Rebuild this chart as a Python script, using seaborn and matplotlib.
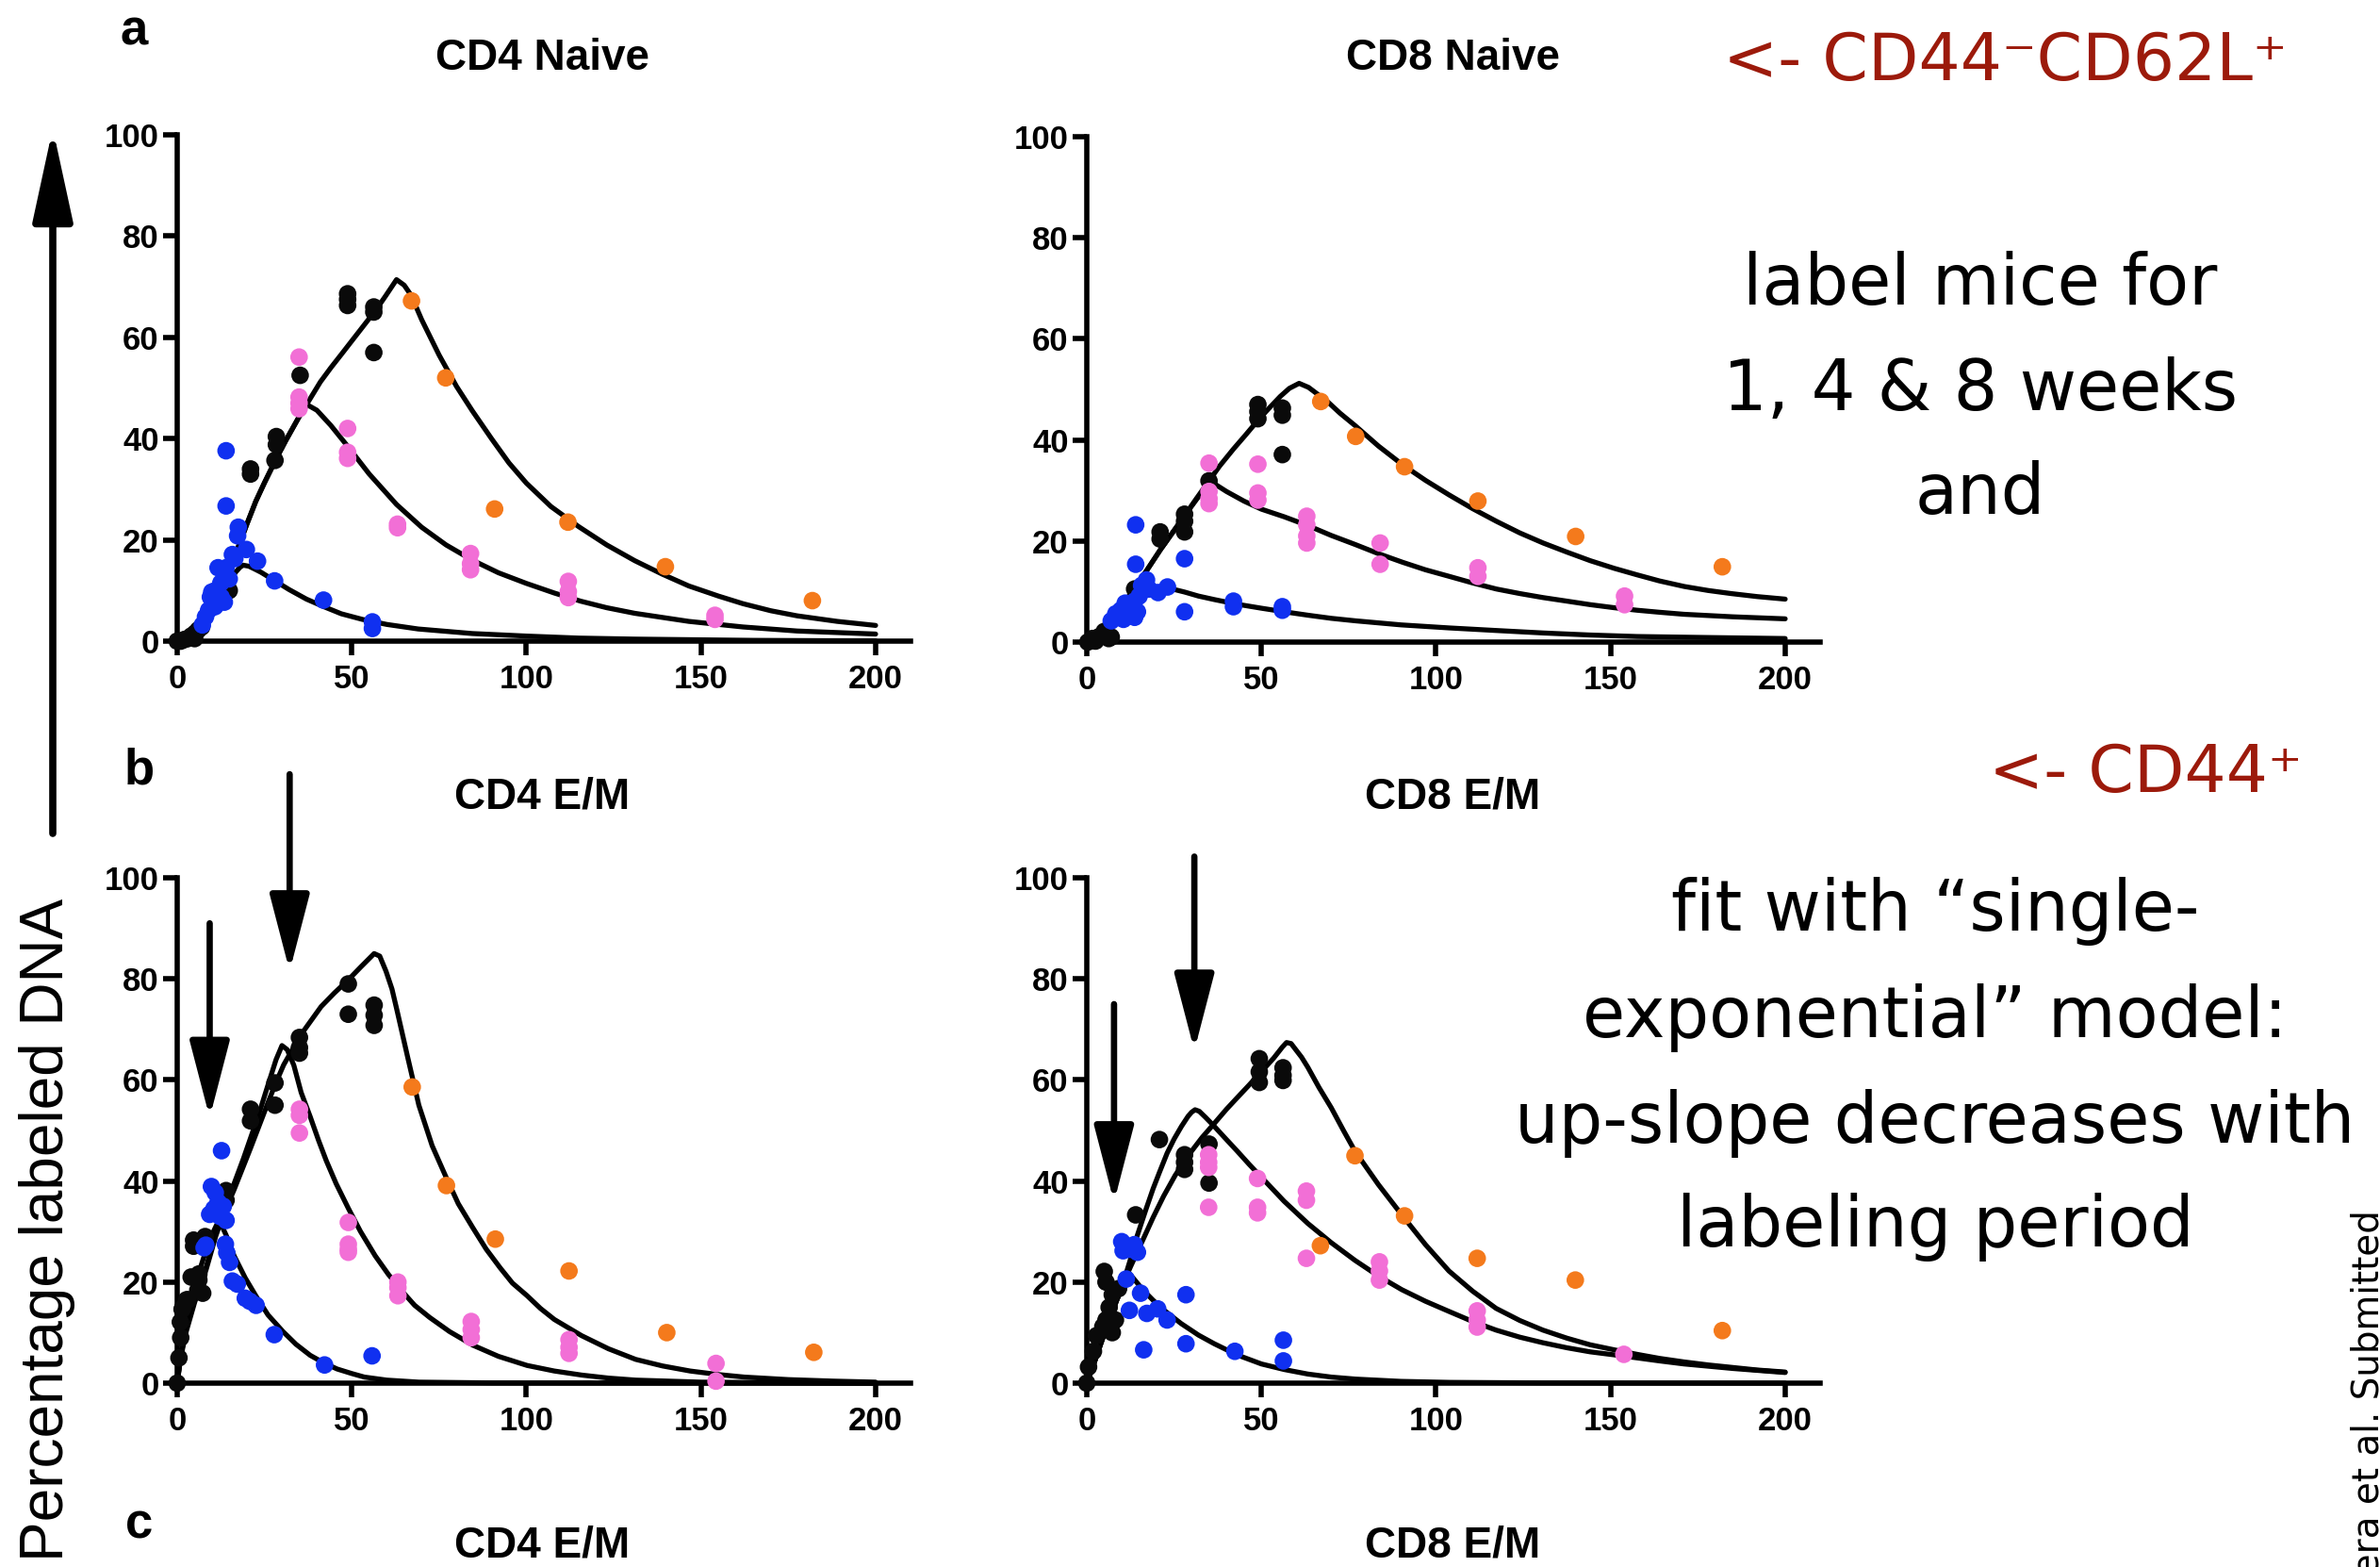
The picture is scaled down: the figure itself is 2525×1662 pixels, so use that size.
import matplotlib
matplotlib.use("Agg")
import matplotlib.pyplot as plt
from matplotlib.patches import ArrowStyle
import numpy as np
import pandas as pd
import seaborn as sns

# ---------------------------------------------------------------------------
# Data: percentage of labeled DNA vs. day, measured points and model fits
# ---------------------------------------------------------------------------
DAY_TICKS = [0, 50, 100, 150, 200]
PCT_TICKS = [0, 20, 40, 60, 80, 100]

# --- CD4 naive -------------------------------------------------------------
CD4N_BLACK = [(0, 0), (1, 0), (2, 0.3), (3, 0.5), (4, 1), (5, 1.5), (5, 0.5), (6, 2.2), (7, 2.8),
              (13.5, 10.4), (14.9, 10), (21, 34), (21, 33), (28.4, 40.4), (28.4, 38.8), (28, 35.7),
              (35.2, 52.5), (48.8, 68.6), (48.8, 67.5), (48.8, 66.3), (56.3, 66), (56.3, 65), (56.3, 57)]
CD4N_BLUE = [(14, 37.6), (14, 26.7), (17.5, 22.5), (17.3, 20.8), (15.8, 17.1), (16.5, 16.3), (19.8, 18.1),
             (23, 15.8), (27.9, 11.9), (41.9, 8.1), (55.9, 3.8), (55.9, 2.5), (11.7, 14.5), (14.9, 12.3),
             (9.9, 9.7), (9.5, 8.7), (10.8, 6.8), (9, 6.1), (8.1, 4.8), (7.2, 3.2), (12.6, 8.7), (13.5, 7.7),
             (11, 10), (12.5, 11.5), (14, 14.5)]
CD4N_PINK = [(34.9, 56.1), (34.9, 48.2), (34.9, 47), (34.9, 45.9), (48.8, 42), (48.8, 37.3), (48.8, 36.1),
             (63.1, 23.1), (63.1, 22.4), (84, 17.3), (84, 15.3), (84, 14.1), (112, 11.8), (112, 9.8),
             (112, 8.6), (154, 5.1), (154, 4.3)]
CD4N_ORANGE = [(67.1, 67.2), (76.9, 52), (90.9, 26.1), (111.9, 23.5), (139.8, 14.7), (181.9, 8.0)]

CD4N_FIT_1WK = [(0, 0), (3, 0.6), (6, 2.5), (9, 5.3), (12, 8.8), (14.4, 11.2), (16.7, 13.6), (18, 14.6),
                (18.9, 15.0), (20.5, 14.8), (22, 14.3), (24, 13.6), (28, 11.9), (32, 10.2), (37, 8.3),
                (42, 6.8), (47, 5.4), (53, 4.3), (60, 3.3), (69, 2.4), (84.5, 1.5), (100, 1.0), (115, 0.6),
                (131, 0.4), (165, 0.15), (200, 0.05)]
CD4N_FIT_4WK = [(0, 0), (3, 0.6), (6, 2.5), (9, 5.5), (12, 9.5), (14, 12.5), (16, 16), (18, 19.5),
                (20, 23.2), (22.5, 27.6), (25, 31.3), (28.7, 36.5), (31, 39.5), (34.9, 44.3), (37.2, 46.7),
                (40, 45.6), (44, 42.6), (48.8, 38.5), (55, 33), (62.8, 27), (70, 22.5), (77, 19),
                (84.5, 16), (92, 13.5), (100, 11.4), (108, 9.5), (115.5, 7.9), (123, 6.6), (131, 5.5),
                (146.5, 3.9), (162, 2.8), (177.5, 2), (200, 1.4)]
CD4N_FIT_8WK = [(0, 0), (3, 0.6), (6, 2.5), (9, 5.5), (12, 9.5), (14, 12.5), (16, 16), (18, 19.5),
                (20, 23.2), (22.5, 27.6), (25, 31.3), (28.7, 36.5), (31, 39.5), (34.9, 44.3), (37.2, 46.9),
                (41, 51.2), (44, 54), (47.3, 56.9), (50, 59.3), (53.5, 62.4), (57, 65.5), (59.7, 68.2),
                (62.8, 71.4), (65, 70.3), (67, 68.3), (70, 63.5), (75, 56.5), (80, 50.3), (84.5, 45.5),
                (90, 40), (95, 35.2), (100, 31.2), (107, 26.6), (115, 22.6), (123, 19), (131, 15.9),
                (139, 13.2), (146.5, 10.9), (155, 8.9), (162, 7.4), (170, 6), (177.5, 5), (189, 3.9),
                (200, 3.1)]

# --- CD8 naive -------------------------------------------------------------
CD8N_BLACK = [(0.3, 0), (1.6, 0.7), (2.5, 0.2), (3.6, 1.1), (5, 2.1), (6.3, 0.7), (7, 1),
              (13.7, 10.5), (21, 21.8), (21, 20.4), (28, 25.3), (28, 23.9), (28, 21.8), (35, 31.9),
              (49, 47), (49, 45.6), (49, 44.2), (56, 46.3), (56, 44.9), (56, 37.1)]
CD8N_BLUE = [(14, 23.2), (14, 15.4), (28, 16.5), (28, 6), (42, 8.1), (42, 7), (56, 7), (56, 6.3),
             (23.1, 10.9), (20.4, 9.8), (17.1, 12.3), (17.8, 10.5), (15, 9.1), (13.7, 8.1), (12.4, 7),
             (11, 7.7), (9.7, 6.3), (8.3, 5.6), (7, 4.2), (13.7, 4.9), (15.7, 11.2), (12, 5.5),
             (10.5, 4.5), (14.5, 6)]
CD8N_PINK = [(35, 35.4), (35, 29.8), (35, 28.4), (35, 27.4), (49, 35.2), (49, 29.5), (49, 28.1),
             (63, 24.9), (63, 23.2), (63, 21), (63, 19.6), (84, 19.6), (84, 15.4), (112, 14.7),
             (112, 13), (154, 9.1), (154, 7.4)]
CD8N_ORANGE = [(67, 47.6), (77, 40.7), (91, 34.7), (112, 27.9), (140, 20.9), (182, 14.9)]

CD8N_FIT_1WK = [(0, 0), (3, 0), (5, 1.5), (7, 3.5), (9.7, 6.7), (11.5, 8.5), (14, 9.6), (17, 10.1),
                (20.5, 10.4), (24.5, 10.5), (28, 9.9), (32, 9.1), (36.6, 8.4), (43, 7.5), (50, 6.7),
                (56.5, 6.0), (63.5, 5.3), (70, 4.7), (77, 4.2), (90, 3.4), (103.8, 2.8), (117, 2.3),
                (130.7, 1.8), (144, 1.4), (157.6, 1.1), (178, 0.9), (200, 0.7)]
CD8N_FIT_4WK = [(0, 0), (3, 0), (5, 1.5), (7, 3.5), (9.7, 6.7), (12, 9), (13.7, 10.5), (17, 14),
                (21.1, 18.3), (24.5, 21.6), (28.1, 25.1), (31.5, 28.3), (33.5, 30), (35.2, 31.1),
                (36.6, 31.3), (40, 29.8), (45, 27.9), (50, 26.3), (56.5, 24.8), (63.5, 23), (70, 21.1),
                (76.9, 19.3), (83.5, 17.5), (90.4, 15.8), (97, 14.3), (103.8, 13), (110.5, 11.7),
                (117.3, 10.5), (124, 9.6), (130.7, 8.8), (137.5, 8.1), (144.2, 7.4), (151, 6.8),
                (157.6, 6.3), (164, 5.9), (171, 5.5), (185, 5), (200, 4.6)]
CD8N_FIT_8WK = [(0, 0), (3, 0), (5, 1.5), (7, 3.5), (9.7, 6.7), (12, 9), (13.7, 10.5), (17, 14),
                (21.1, 18.3), (24.5, 21.6), (28.1, 25.1), (31.5, 28.5), (35.1, 32), (38, 34.8), (42, 38.2),
                (45.5, 41), (49.4, 44.2), (52.5, 46.5), (55.4, 48.6), (58, 50.2), (60.8, 51.2),
                (63.5, 50.4), (66, 49.1), (68.9, 47.6), (72.5, 45.3), (76.9, 42.8), (83.5, 38.8),
                (90.4, 35.1), (97, 32), (103.8, 29.1), (110.5, 26.4), (117.3, 23.9), (124, 21.6),
                (130.7, 19.6), (137.5, 17.8), (144.2, 16.1), (151, 14.6), (157.6, 13.3), (164, 12.1),
                (171.1, 11), (178, 10.2), (184.5, 9.6), (192, 9), (200, 8.5)]

# --- CD4 effector/memory ---------------------------------------------------
CD4EM_BLACK = [(0, 0), (0.5, 5), (1, 9), (0.9, 12.1), (1.4, 14.6), (1.6, 14.9), (2.7, 16.5), (3.1, 16.5),
               (4, 21), (5, 20.9), (5.9, 18.4), (7.3, 17.8), (6.2, 21.6), (6.2, 20.4), (4.7, 28.3),
               (4.7, 27.1), (7, 28), (8, 29), (14, 38.1), (14, 36.2), (21, 54.2), (21, 51.9),
               (28, 59.4), (28, 55), (35, 68.4), (35, 66.4), (35, 65.3), (49, 79), (49, 73),
               (56.4, 74.8), (56.4, 72.8), (56.4, 70.8)]
CD4EM_BLUE = [(12.7, 46), (9.8, 38.9), (10.9, 37.7), (11.7, 35.8), (13.2, 35), (9.3, 33.4), (14, 32.2),
              (10.5, 34.5), (12.2, 33), (7.7, 26.8), (8.2, 27.3), (13.8, 27.5), (14.2, 25.8), (15, 23.9),
              (15.8, 20.2), (17.2, 19.6), (19.5, 16.8), (20.8, 16.2), (22.6, 15.4), (27.8, 9.6),
              (42.2, 3.6), (55.8, 5.4)]
CD4EM_PINK = [(35, 54.2), (35, 53), (35, 49.5), (49, 31.8), (49, 27.5), (49, 26.5), (49, 25.9),
              (63.2, 20), (63.2, 18.9), (63.2, 17.3), (84.2, 12.2), (84.2, 10.6), (84.2, 9),
              (112.2, 8.6), (112.2, 7.1), (112.2, 5.9), (154.3, 3.9), (154.3, 0.4)]
CD4EM_ORANGE = [(67.3, 58.6), (77.1, 39.1), (91.1, 28.5), (112.2, 22.2), (140.2, 10), (182.3, 6.1)]

CD4EM_FIT_1WK = [(0, 0), (1, 5.5), (2, 10.2), (3.1, 14.5), (5, 19.5), (7, 23.6), (8.5, 26.8),
                 (10.1, 29.6), (11.2, 31.2), (12, 31.8), (13, 30.8), (14, 29.3), (16.3, 25.2),
                 (19.5, 20.8), (22.5, 17.3), (26, 13.5), (30.3, 10.2), (34, 7.7), (38.1, 5.5), (42, 4),
                 (45.8, 2.8), (50, 1.9), (53.6, 1.2), (60, 0.6), (69.2, 0.2), (90, 0.05), (200, 0)]
CD4EM_FIT_4WK = [(0, 0), (1, 5.5), (2.5, 10.5), (5, 16.5), (8.3, 23), (11, 29.5), (13, 34), (16.3, 39.5),
                 (19, 44.5), (21, 48.5), (23.5, 53.5), (26, 59), (28.3, 64), (30, 66.8), (31.5, 66),
                 (33.4, 62.9), (35.5, 57.5), (38.1, 52.7), (40.5, 48), (42.7, 44), (45.5, 39.5),
                 (49, 34.6), (52.5, 30), (56.7, 25.2), (60.5, 21.5), (64.5, 18.1), (68, 15.4),
                 (72.3, 13), (78, 10.2), (84.7, 7.5), (92, 5.3), (100.2, 3.5), (108, 2.4), (115.8, 1.6),
                 (123.5, 1), (131.3, 0.6), (150, 0.2), (200, 0)]
CD4EM_FIT_8WK = [(0, 0), (1, 5), (2.5, 10), (5, 16), (8.3, 22.5), (11, 29), (13, 33), (16.3, 38.3),
                 (19, 43), (21, 46.5), (23.5, 51), (26, 55.5), (28.3, 59.5), (30.5, 63), (33.4, 66.5),
                 (36, 69.5), (41.2, 74.5), (45, 77.2), (49, 79.8), (52.5, 82.3), (56.4, 85), (58, 84.5),
                 (59.8, 81.5), (61.5, 78), (62.9, 73.9), (66, 64.5), (69.2, 55), (73, 47), (76.9, 40.9),
                 (80.5, 35.5), (84.7, 30.7), (88.5, 26.5), (92.5, 22.8), (96, 19.8), (100.2, 17.3),
                 (104, 14.8), (108, 12.6), (115.8, 9.4), (123.5, 6.8), (131.3, 4.7), (139, 3.4),
                 (146.9, 2.4), (155, 1.7), (162.4, 1.2), (175, 0.7), (188, 0.4), (200, 0.2)]

# --- CD8 effector/memory ---------------------------------------------------
CD8EM_BLACK = [(0, 0), (0.5, 3.2), (1.9, 6.3), (2.8, 9.4), (4.6, 11.2), (5.5, 12.5), (6.4, 15),
               (7.3, 17.5), (7.3, 10), (8.2, 12.5), (9.1, 18.7), (5.5, 20), (5, 22.1), (14, 33.3),
               (20.8, 48.2), (28, 45.2), (28, 43.7), (28, 42.3), (35, 47.3), (35, 39.6),
               (49.4, 64.2), (49.4, 61.6), (49.4, 59.5), (56.2, 62.4), (56.2, 60.9), (56.2, 59.9)]
CD8EM_BLUE = [(10, 28), (10.4, 26.2), (13.6, 27.4), (14.5, 25.9), (12.2, 26.5), (11.3, 20.6),
              (15.4, 17.8), (12.2, 14.4), (17.2, 13.8), (20.3, 14.7), (23, 12.5), (28.4, 17.5),
              (16.3, 6.6), (28.4, 7.8), (42.4, 6.3), (56.3, 8.5), (56.3, 4.4)]
CD8EM_PINK = [(34.9, 45.2), (34.9, 43.7), (34.9, 42.7), (34.9, 34.8), (48.9, 40.5), (48.9, 34.8),
              (48.9, 33.7), (62.9, 38), (62.9, 36.2), (62.9, 24.7), (83.8, 24), (83.8, 22.2),
              (83.8, 20.4), (111.8, 14.3), (111.8, 12.5), (111.8, 11.1), (153.8, 5.7)]
CD8EM_ORANGE = [(66.9, 27.2), (76.8, 45), (91, 33.1), (111.8, 24.7), (139.9, 20.4), (182, 10.4)]

CD8EM_FIT_1WK = [(0, 0), (2, 3.8), (4, 7.8), (6.4, 12.5), (8.5, 16.3), (10.5, 19.5), (11.5, 21),
                 (12.3, 21.6), (14, 20.2), (16, 18.5), (19, 16.4), (22, 14.5), (27, 11.8), (32, 9.5),
                 (36.5, 7.8), (43, 5.6), (50, 3.8), (56.5, 2.7), (63.3, 1.8), (70, 1.2), (77, 0.8),
                 (90, 0.35), (104, 0.15), (130, 0.05), (200, 0)]
CD8EM_FIT_4WK = [(0, 0), (2, 3.8), (4, 7.8), (6.4, 12.5), (8.5, 16.3), (10.5, 20), (12.5, 24.5),
                 (14.5, 29.3), (17, 34.5), (19, 38.5), (20.8, 41.7), (23, 45.5), (25, 48.3), (27.1, 50.8),
                 (29, 52.8), (30, 53.6), (31, 54.1), (32.2, 53.8), (34, 52.6), (36.4, 50.9), (40, 48.2),
                 (43.1, 45.9), (46.5, 43.3), (49.8, 40.9), (56.5, 36), (63.3, 31.6), (70, 27.8),
                 (76.8, 24.3), (83.5, 21.2), (90.2, 18.5), (97, 16.2), (103.7, 14.2), (110.5, 12.2),
                 (117.2, 10.5), (124, 9.1), (130.6, 8), (137.5, 7), (144.1, 6.2), (151, 5.6),
                 (157.6, 5), (164, 4.4), (171, 3.8), (185, 2.9), (200, 2.1)]
CD8EM_FIT_8WK = [(0, 0), (2, 3.8), (4, 7.8), (6.4, 12.5), (8.5, 16.3), (10.5, 19.8), (12.5, 23),
                 (14.5, 26), (16.3, 28.7), (19, 32.8), (22, 37), (25.3, 41.1), (29, 45), (33, 48.6),
                 (36.4, 51.3), (40, 54.2), (43.1, 56.5), (46.5, 59), (49.8, 61.5), (53.5, 64.3),
                 (56, 66.5), (57.2, 67.4), (58.5, 67.2), (59.5, 66.3), (61.5, 64.5), (63.3, 62.5),
                 (66.5, 58.5), (70, 54.5), (73.5, 50), (76.8, 45.9), (83.5, 39.3), (90.2, 33.3),
                 (97, 27.4), (103.7, 22.2), (110.5, 18.2), (117.2, 14.8), (124, 12.4), (130.6, 10.5),
                 (137.5, 8.9), (144.1, 7.6), (151, 6.6), (157.6, 5.7), (164, 4.9), (171, 4.2),
                 (178, 3.6), (185, 3.1), (192, 2.6), (200, 2.2)]

# Down-pointing arrows in the E/M panels: (day, tail %, tip %)
CD4EM_ARROWS = [(9.3, 91, 52.5), (32.2, 120.5, 81.5)]
CD8EM_ARROWS = [(7.8, 75, 35.8), (30.8, 104.2, 65.8)]

GROUP_COLORS = {"black": "#0a0a0a", "blue": "#1030f0", "pink": "#f26fd6", "orange": "#f47a1c"}

# ---------------------------------------------------------------------------
# Styling
# ---------------------------------------------------------------------------
sns.set_style("ticks")
plt.rcParams["font.family"] = ["Liberation Sans", "DejaVu Sans"]
plt.rcParams["text.color"] = "black"
plt.rcParams["xtick.color"] = "black"
plt.rcParams["ytick.color"] = "black"
plt.rcParams["axes.edgecolor"] = "black"
HAND = ["DejaVu Sans"]
DARK_RED = "#9c1a0b"

W, H = 2525, 1662
fig = plt.figure(figsize=(W / 100, H / 100), dpi=100)
fig.patch.set_facecolor("white")


def px_axes(left, top, right, bottom):
    return fig.add_axes([left / W, 1 - bottom / H, (right - left) / W, (bottom - top) / H])


def draw_panel(ax, black, blue, pink, orange, fits, arrows=()):
    rows = []
    for name, pts in (("black", black), ("blue", blue), ("pink", pink), ("orange", orange)):
        for d, p in pts:
            rows.append({"day": d, "pct": p, "group": name})
    df = pd.DataFrame(rows)

    for fit in fits:
        fx = [d for d, _ in fit]
        fy = [p for _, p in fit]
        sns.lineplot(x=fx, y=fy, ax=ax, color="black", linewidth=3.8, estimator=None,
                     sort=False, clip_on=False, zorder=2)

    sns.scatterplot(data=df, x="day", y="pct", hue="group", palette=GROUP_COLORS, s=180,
                    edgecolor="none", linewidth=0, legend=False, ax=ax, clip_on=False, zorder=3)

    style = ArrowStyle("-|>", head_length=5.0, head_width=1.3)
    for d, tail, tip in arrows:
        ax.annotate("", xy=(d, tip), xytext=(d, tail), xycoords="data", textcoords="data",
                    annotation_clip=False,
                    arrowprops=dict(arrowstyle=style, color="black", lw=4.8, mutation_scale=10,
                                    shrinkA=0, shrinkB=0), zorder=4)

    ax.set_xlim(0, 210)
    ax.set_ylim(0, 100)
    ax.set_xticks(DAY_TICKS)
    ax.set_yticks(PCT_TICKS)
    ax.set_xlabel("")
    ax.set_ylabel("")
    sns.despine(ax=ax)
    for side in ("left", "bottom"):
        ax.spines[side].set_linewidth(4)
        ax.spines[side].set_color("black")
        ax.spines[side].set_capstyle("projecting")
    ax.tick_params(axis="both", direction="out", length=11, width=4, labelsize=25, pad=3,
                   colors="black")
    ax.tick_params(axis="x", pad=6)
    for lab in ax.get_xticklabels() + ax.get_yticklabels():
        lab.set_fontweight("bold")
    ax.set_facecolor("none")


ax_a1 = px_axes(188, 143, 188 + 778, 680)
ax_a2 = px_axes(1153, 145, 1153 + 778, 681)
ax_b1 = px_axes(188, 931, 188 + 778, 1467)
ax_b2 = px_axes(1153, 931, 1153 + 778, 1467)

draw_panel(ax_a1, CD4N_BLACK, CD4N_BLUE, CD4N_PINK, CD4N_ORANGE,
           [CD4N_FIT_1WK, CD4N_FIT_4WK, CD4N_FIT_8WK])
draw_panel(ax_a2, CD8N_BLACK, CD8N_BLUE, CD8N_PINK, CD8N_ORANGE,
           [CD8N_FIT_1WK, CD8N_FIT_4WK, CD8N_FIT_8WK])
draw_panel(ax_b1, CD4EM_BLACK, CD4EM_BLUE, CD4EM_PINK, CD4EM_ORANGE,
           [CD4EM_FIT_1WK, CD4EM_FIT_4WK, CD4EM_FIT_8WK], CD4EM_ARROWS)
draw_panel(ax_b2, CD8EM_BLACK, CD8EM_BLUE, CD8EM_PINK, CD8EM_ORANGE,
           [CD8EM_FIT_1WK, CD8EM_FIT_4WK, CD8EM_FIT_8WK], CD8EM_ARROWS)


def ftext(x, y, s, **kw):
    kw.setdefault("color", "black")
    return fig.text(x / W, 1 - y / H, s, **kw)


# Panel letters and titles
for letter, (lx, ly) in (("a", (142, 34)), ("b", (148, 818)), ("c", (148, 1618))):
    ftext(lx, ly, letter, fontsize=38, fontweight="bold", ha="center", va="center")
for title, (tx, ty) in (("CD4 Naive", (575, 62)), ("CD8 Naive", (1541, 62)),
                        ("CD4 E/M", (575, 846)), ("CD8 E/M", (1541, 846)),
                        ("CD4 E/M", (575, 1640)), ("CD8 E/M", (1541, 1640))):
    ftext(tx, ty, title, fontsize=33, fontweight="bold", ha="center", va="center")

# Shared y label with its upward arrow
ftext(50, 1304, "Percentage labeled DNA", fontsize=46, rotation=90, ha="center", va="center")
fig.add_artist(matplotlib.patches.FancyArrowPatch(
    (56 / W, 1 - 884 / H), (56 / W, 1 - 136 / H), transform=fig.transFigure,
    arrowstyle=ArrowStyle("-|>", head_length=6.0, head_width=1.3), mutation_scale=10,
    color="black", lw=5.5, shrinkA=0, shrinkB=0))

# Annotations on the right
ftext(1828, 66, "<- CD44\u207bCD62L\u207a", fontsize=50, color=DARK_RED, family=HAND,
      ha="left", va="center")
ftext(2110, 820, "<- CD44\u207a", fontsize=50, color=DARK_RED, family=HAND, ha="left", va="center")

for line, y in (("label mice for", 303), ("1, 4 & 8 weeks", 415), ("and", 525)):
    ftext(2101, y, line, fontsize=53, family=HAND, ha="center", va="center")
for line, y in (("fit with \u201csingle-", 966), ("exponential\u201d model:", 1079),
                ("up-slope decreases with", 1192), ("labeling period", 1301)):
    ftext(2053, y, line, fontsize=53, family=HAND, ha="center", va="center")

ftext(2524, 1283, "Westera et al. Submitted", fontsize=28, family=HAND, rotation=90,
      rotation_mode="anchor", ha="right", va="baseline")

fig.savefig("out.png", dpi=100, facecolor="white")
